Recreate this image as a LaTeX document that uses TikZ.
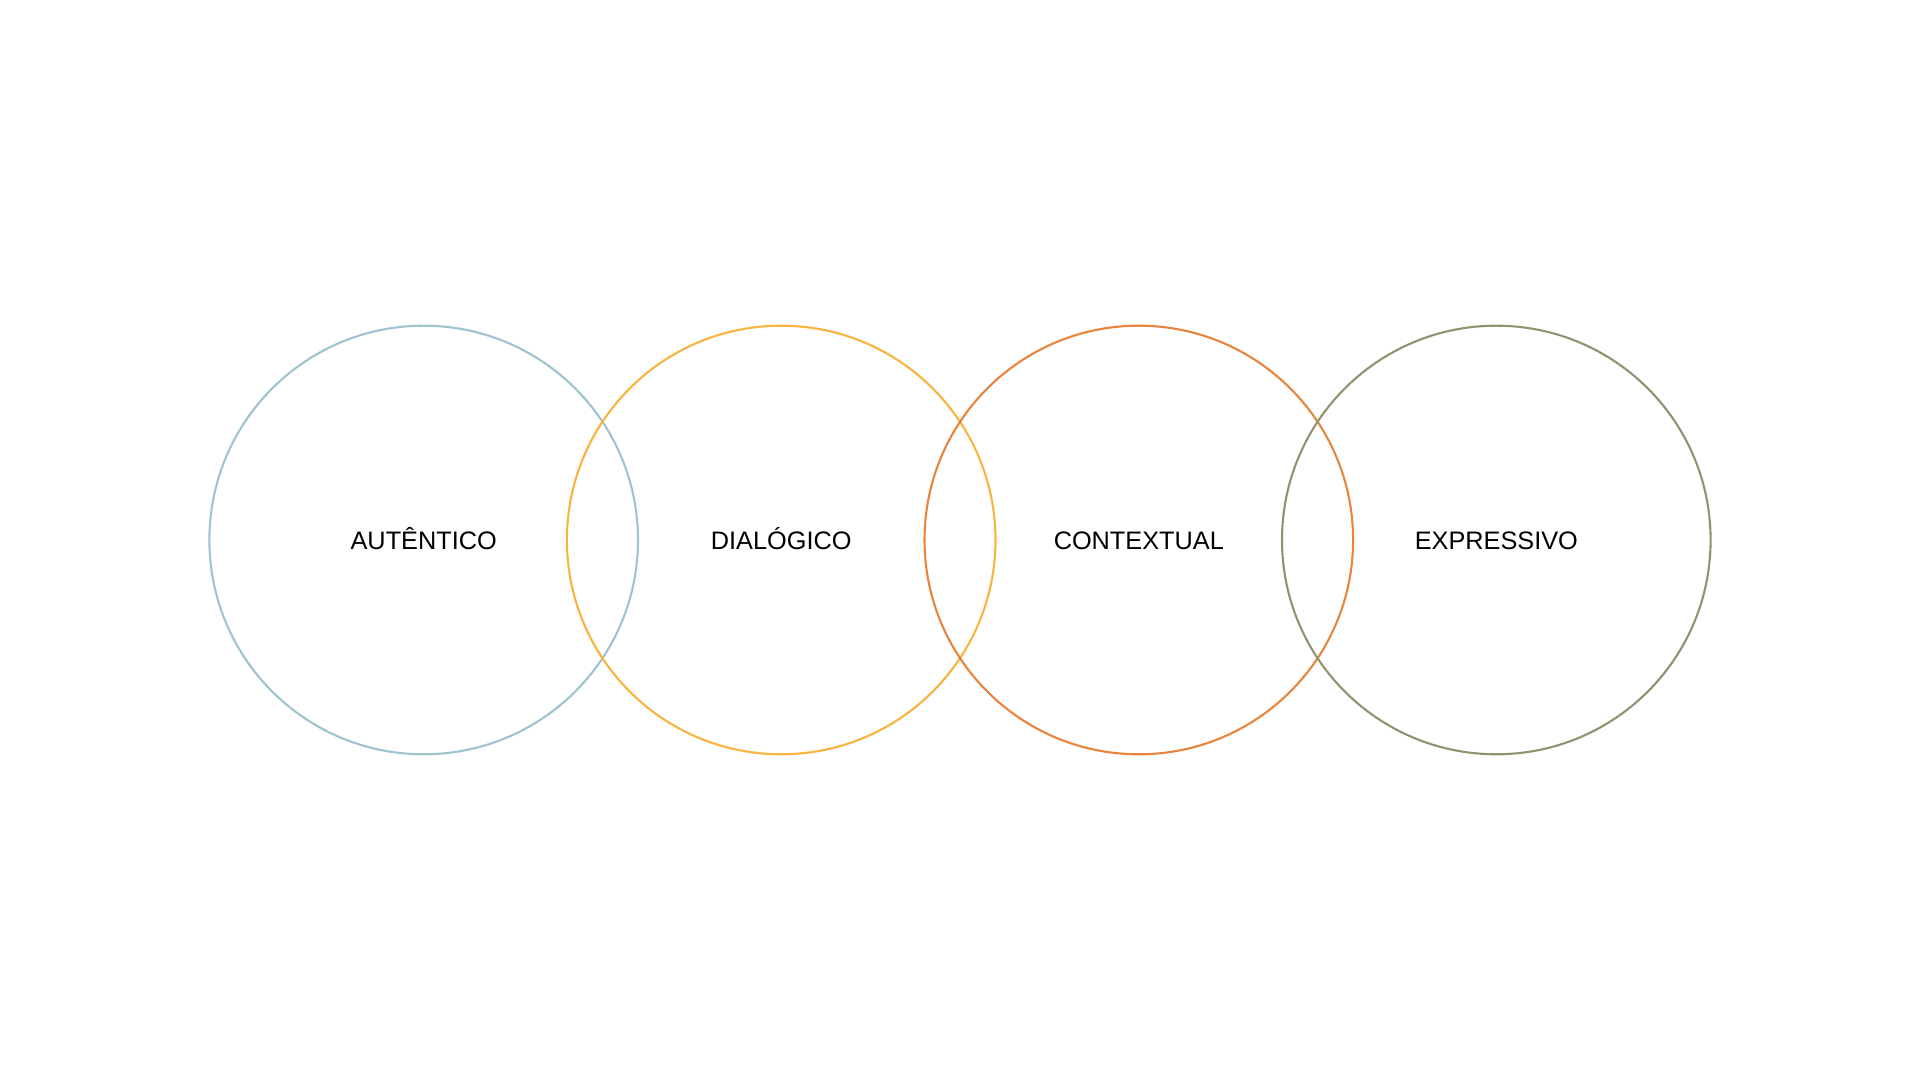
\documentclass[tikz,border=0pt]{standalone}
\usepackage{fontspec}
\setmainfont{Liberation Sans}
\usepackage{tikz}
\definecolor{ringblue}{HTML}{9DC4D0}
\definecolor{ringyellow}{HTML}{F9B33F}
\definecolor{ringorange}{HTML}{E8843C}
\definecolor{ringolive}{HTML}{8C9470}
\begin{document}
\begin{tikzpicture}[x=1cm,y=1cm,font=\fontsize{7.2}{8}\selectfont,
  ring/.style={circle,line width=.6pt,minimum size=4.286cm,inner sep=0pt,
               text height=.716em,text depth=.19em}]
 \useasboundingbox (0,0) rectangle (19.2,10.8);
 \node[ring,draw=ringblue]   (autentico)  at (4.237,5.4)  {AUTÊNTICO};
 \node[ring,draw=ringyellow] (dialogico)  at (7.812,5.4)  {DIALÓGICO};
 \node[ring,draw=ringorange] (contextual) at (11.388,5.4) {CONTEXTUAL};
 \node[ring,draw=ringolive]  (expressivo) at (14.963,5.4) {EXPRESSIVO};
\end{tikzpicture}
\end{document}
